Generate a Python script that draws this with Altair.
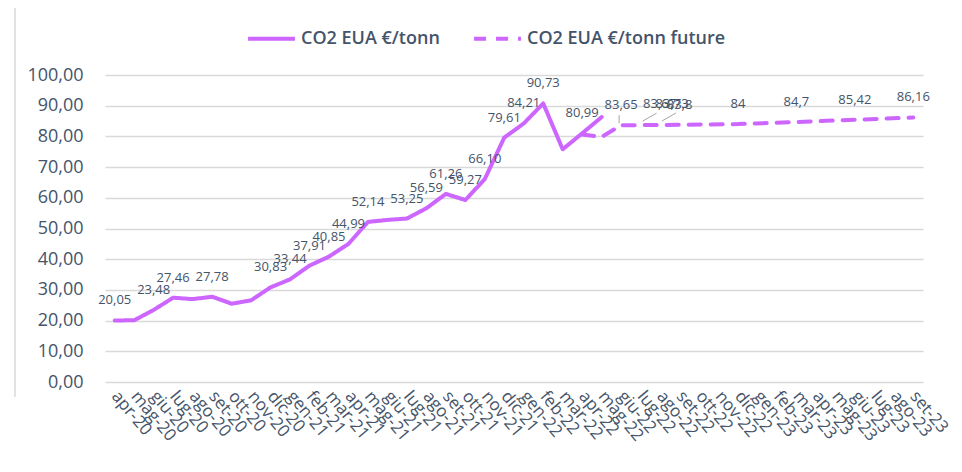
import altair as alt
import pandas as pd

months = ["apr-20", "mag-20", "giu-20", "lug-20", "ago-20", "set-20", "ott-20", "nov-20", "dic-20",
          "gen-21", "feb-21", "mar-21", "apr-21", "mag-21", "giu-21", "lug-21", "ago-21", "set-21",
          "ott-21", "nov-21", "dic-21", "gen-22", "feb-22", "mar-22", "apr-22", "mag-22", "giu-22",
          "lug-22", "ago-22", "set-22", "ott-22", "nov-22", "dic-22", "gen-23", "feb-23", "mar-23",
          "apr-23", "mag-23", "giu-23", "lug-23", "ago-23", "set-23"]

hist_months = months[:26]
hist_values = [20.05, 20.1, 23.48, 27.46, 27.0, 27.78, 25.5, 26.6, 30.83, 33.44, 37.91, 40.85,
               44.99, 52.14, 52.8, 53.25, 56.59, 61.26, 59.27, 66.10, 79.61, 84.21, 90.73, 75.8,
               80.99, 86.3]
hist_labels = ["20,05", "", "23,48", "27,46", "", "27,78", "", "", "30,83", "33,44", "37,91", "40,85",
               "44,99", "52,14", "", "53,25", "56,59", "61,26", "59,27", "66,10", "79,61", "84,21",
               "90,73", "", "80,99", ""]

fut_months = ["apr-22", "mag-22", "giu-22", "lug-22", "ago-22", "set-22", "dic-22", "mar-23", "giu-23", "set-23"]
fut_values = [80.6, 79.8, 83.65, 83.67, 83.73, 83.8, 84.0, 84.7, 85.42, 86.16]
fut_labels = ["", "", "83,65", "83,67", "83,73", "83,8", "84", "84,7", "85,42", "86,16"]

y_ticks = [0, 10, 20, 30, 40, 50, 60, 70, 80, 90, 100]

S1 = "CO2 EUA €/tonn"
S2 = "CO2 EUA €/tonn future"

df = pd.concat([
    pd.DataFrame({"month": hist_months, "value": hist_values, "label": hist_labels, "series": S1}),
    pd.DataFrame({"month": fut_months, "value": fut_values, "label": fut_labels, "series": S2}),
], ignore_index=True)

TXT = "#44546A"
LINE = "#CC66FF"

x_enc = alt.X("month:O", scale=alt.Scale(domain=months),
              axis=alt.Axis(labelAngle=50, labelAlign="left", labelBaseline="middle",
                            labelFontSize=17, labelPadding=11, domain=False, ticks=False,
                            title=None, labelColor=TXT, labelOverlap=False, grid=False))
y_enc = alt.Y("value:Q", scale=alt.Scale(domain=[0, 100]),
              axis=alt.Axis(values=y_ticks, tickCount=11, labelOverlap=False,
                            labelExpr="replace(format(datum.value, '.2f'), '.', ',')",
                            title=None, domain=False, ticks=False, labelFontSize=18,
                            labelPadding=22, gridColor="#D9D9D9", gridWidth=1.5,
                            labelColor=TXT))

leg = alt.Legend(title=None, orient="none", legendX=141, legendY=-62,
                 direction="horizontal", symbolType="stroke",
                 symbolSize=2200, symbolStrokeWidth=4,
                 labelFontSize=18, labelFontWeight=600,
                 labelColor=TXT, labelLimit=400, columnPadding=26, labelOffset=4)

base = alt.Chart(df)

lines = base.mark_line(strokeWidth=4, strokeCap="round", strokeJoin="round").encode(
    x=x_enc, y=y_enc,
    color=alt.Color("series:N", scale=alt.Scale(domain=[S1, S2], range=[LINE, LINE]), legend=leg),
    strokeDash=alt.StrokeDash("series:N", scale=alt.Scale(domain=[S1, S2], range=[[1, 0], [12, 10]]),
                              legend=leg),
    detail="series:N",
)

labels = base.mark_text(fontSize=13, color=TXT, dy=-20, baseline="middle").encode(
    x=x_enc, y=y_enc, text="label:N"
).transform_filter("!(datum.series == '%s' && (datum.month == 'lug-22' || datum.month == 'ago-22'))" % S2)

lab_lug = base.mark_text(fontSize=13, color=TXT, dy=-21, dx=19, baseline="middle").encode(
    x=x_enc, y=y_enc, text="label:N"
).transform_filter("datum.series == '%s' && datum.month == 'lug-22'" % S2)

lab_ago = base.mark_text(fontSize=13, color=TXT, dy=-21, dx=12, baseline="middle").encode(
    x=x_enc, y=y_enc, text="label:N"
).transform_filter("datum.series == '%s' && datum.month == 'ago-22'" % S2)

leader_diag = base.mark_rule(color="#A6A6A6", strokeWidth=1, xOffset=2, x2Offset=16,
                             yOffset=-4, y2Offset=-12).encode(
    x=x_enc, x2="month:O", y=y_enc, y2="value:Q"
).transform_filter("datum.series == '%s' && (datum.month == 'lug-22' || datum.month == 'ago-22')" % S2)

leader_v = base.mark_rule(color="#A6A6A6", strokeWidth=1, xOffset=-2, x2Offset=-2,
                          yOffset=-2, y2Offset=-10).encode(
    x=x_enc, x2="month:O", y=y_enc, y2="value:Q"
).transform_filter("datum.series == '%s' && datum.month == 'giu-22'" % S2)

frame = alt.Chart(pd.DataFrame({"k": [0]})).mark_rule(color="#D9D9D9", strokeWidth=1.5).encode(
    x=alt.value(-90), y=alt.value(-75), y2=alt.value(322)
)

chart = alt.layer(lines, leader_diag, leader_v, labels, lab_lug, lab_ago, frame).properties(
    width=818, height=307,
    padding={"left": 97, "top": 67, "right": 31, "bottom": 82},
    autosize=alt.AutoSizeParams(type="none"),
).configure(font="Open Sans").configure_view(stroke=None)

chart.save("out.html", embed_options={"renderer": "svg", "actions": False})
